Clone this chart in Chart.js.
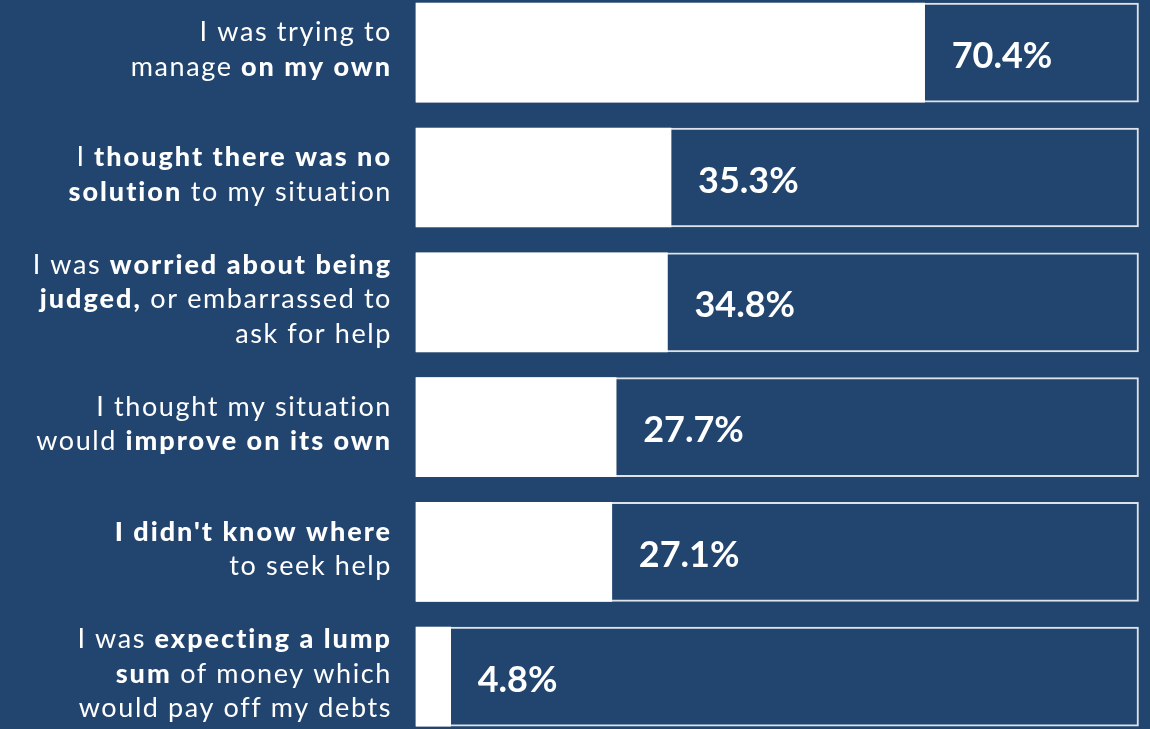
<!DOCTYPE html>
<html>
<head>
<meta charset="utf-8">
<script src="https://cdn.jsdelivr.net/npm/chart.js@4.4.0/dist/chart.umd.min.js"></script>
<style>
  html, body { margin: 0; padding: 0; background: #22456f; overflow: hidden; }
  canvas { display: block; }
</style>
</head>
<body>
<canvas id="chart" width="1150" height="729"></canvas>
<script>
// label lines, **text** is bold
var categories = [
    ['I was trying to', 'manage **on my own**'],
    ['I **thought there was no**', '**solution** to my situation'],
    ['I was **worried about being**', '**judged,** or embarrassed to', 'ask for help'],
    ['I thought my situation', 'would **improve on its own**'],
    ['**I didn\'t know where**', 'to seek help'],
    ['I was **expecting a lump**', '**sum** of money which', 'would pay off my debts']
];
var values = [70.4, 35.3, 34.8, 27.7, 27.1, 4.8];
var full = [100, 100, 100, 100, 100, 100];

var navy = '#22456f';
var fontName = 'Lato, "Open Sans", sans-serif';

function setFont(ctx, bold){
    ctx.font = (bold ? '900 ' : '400 ') + '27px ' + fontName;
    ctx.letterSpacing = bold ? '2px' : '1.6px';
}

function drawMixed(ctx, line, xRight, y){
    var parts = line.split('**');
    var widths = [];
    var total = 0;
    for (var i = 0; i < parts.length; i++){
        setFont(ctx, i % 2);
        var w = ctx.measureText(parts[i]).width;
        widths.push(w);
        total += w;
    }
    var x = xRight - total;
    for (var i = 0; i < parts.length; i++){
        setFont(ctx, i % 2);
        ctx.fillText(parts[i], x, y);
        x += widths[i];
    }
}

var labelsPlugin = {
    id: 'labelsPlugin',
    afterDatasetsDraw: function(chart){
        var ctx = chart.ctx;
        var xs = chart.scales.x, ys = chart.scales.y;
        ctx.save();
        ctx.fillStyle = '#ffffff';
        ctx.textAlign = 'left';
        ctx.textBaseline = 'alphabetic';
        for (var i = 0; i < categories.length; i++){
            var cy = ys.getPixelForValue(i);
            var lines = categories[i];
            for (var j = 0; j < lines.length; j++){
                var by = cy + (j - (lines.length - 1) / 2) * 34.5 + 6;
                drawMixed(ctx, lines[j], 392, by);
            }
            ctx.letterSpacing = '0px';
            ctx.font = '700 36px ' + fontName;
            ctx.fillText(values[i].toFixed(1) + '%', xs.getPixelForValue(values[i]) + 27, cy + 15);
        }
        ctx.restore();
    }
};

var chart = new Chart(document.getElementById('chart'), {
    type: 'bar',
    data: {
        labels: categories.map(function(c){ return c.join(' ').replace(/\*\*/g, ''); }),
        datasets: [{
            data: values,
            backgroundColor: '#ffffff',
            borderWidth: 0,
            grouped: false,
            barThickness: 99,
            clip: false,
            order: 0
        }, {
            data: full,
            backgroundColor: navy,
            borderColor: 'rgba(255,255,255,0.85)',
            borderWidth: 2,
            borderSkipped: false,
            grouped: false,
            barThickness: 99,
            clip: false,
            order: 1
        }]
    },
    options: {
        indexAxis: 'y',
        responsive: false,
        animation: false,
        devicePixelRatio: 1,
        layout: { padding: { left: 416, right: 11.5, top: 52.7, bottom: 52.3 } },
        plugins: { legend: { display: false }, tooltip: { enabled: false } },
        scales: {
            x: { display: false, min: 0, max: 100 },
            y: { display: false, offset: false }
        }
    },
    plugins: [labelsPlugin]
});
</script>
</body>
</html>
